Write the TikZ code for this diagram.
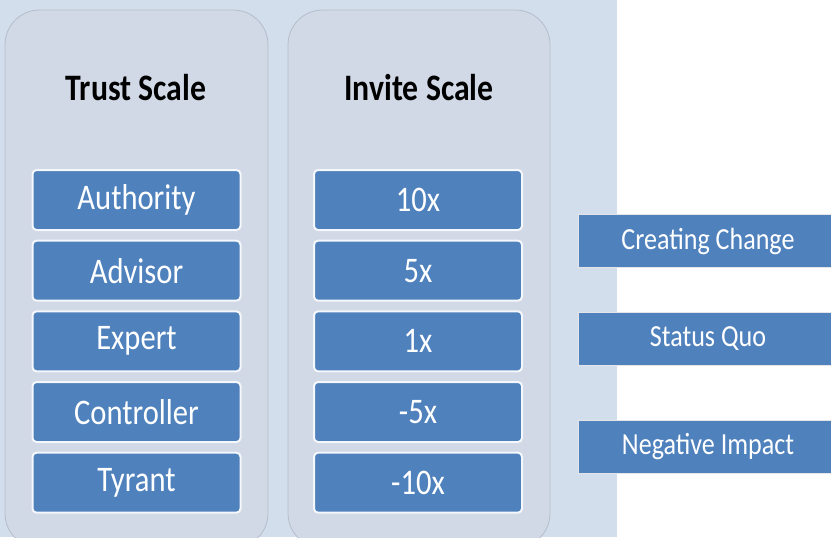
\documentclass[tikz,border=0pt]{standalone}
\usepackage{fontspec}
\setmainfont{Carlito}[FakeStretch=0.85]
\usetikzlibrary{positioning}
\definecolor{Sky}{HTML}{D3DEEC}
\definecolor{Panel}{HTML}{D1D8E6}
\definecolor{PanelLine}{HTML}{B4BDCB}
\definecolor{Tile}{HTML}{4F81BD}
\definecolor{TileLine}{HTML}{F4F7FB}
\tikzset{
  panel/.style={draw=PanelLine,fill=Panel,rounded corners=26pt,line width=0.6pt},
  heading/.style={anchor=base,text=black,font=\fontsize{28}{30}\selectfont\bfseries},
  tile/.style={draw=TileLine,fill=Tile,rounded corners=3pt,line width=1.5pt,minimum width=156pt,minimum height=45pt,inner sep=0pt,text=white,font=\fontsize{27}{29}\selectfont},
  band/.style={draw=TileLine!85!gray,fill=Tile,line width=0.8pt,minimum width=194pt,minimum height=40pt,inner sep=0pt,text=white,font=\fontsize{23}{25}\selectfont}
}

\begin{document}
\begin{tikzpicture}[x=0.75pt,y=-0.75pt,node distance=6.5pt]
  \useasboundingbox (0,0) rectangle (831,537);
  \clip (0,0) rectangle (831,537);
  \fill[Sky] (0,0) rectangle (617,537);
  % the two scale columns
  \draw[panel] (5,10) rectangle (268,548);
  \draw[panel] (288,10) rectangle (550,548);
  \node[heading] (trust) at (136,100) {Trust Scale};
  \node[heading] (invite) at (419,100) {Invite Scale};
  % trust levels
  \node[tile] (authority) at (136.5,200) {Authority};
  \node[tile,below=of authority] (advisor) {Advisor};
  \node[tile,below=of advisor] (expert) {Expert};
  \node[tile,below=of expert] (controller) {Controller};
  \node[tile,below=of controller] (tyrant) {Tyrant};
  % invite multipliers
  \node[tile] (ten) at (418,200) {10x};
  \node[tile,below=of ten] (five) {5x};
  \node[tile,below=of five] (one) {1x};
  \node[tile,below=of one] (minusfive) {-5x};
  \node[tile,below=of minusfive] (minusten) {-10x};
  % outcomes
  \node[band] (change) at (708,241) {Creating Change};
  \node[band] (quo) at (708,339) {Status Quo};
  \node[band] (impact) at (708,447) {Negative Impact};
\end{tikzpicture}
\end{document}
